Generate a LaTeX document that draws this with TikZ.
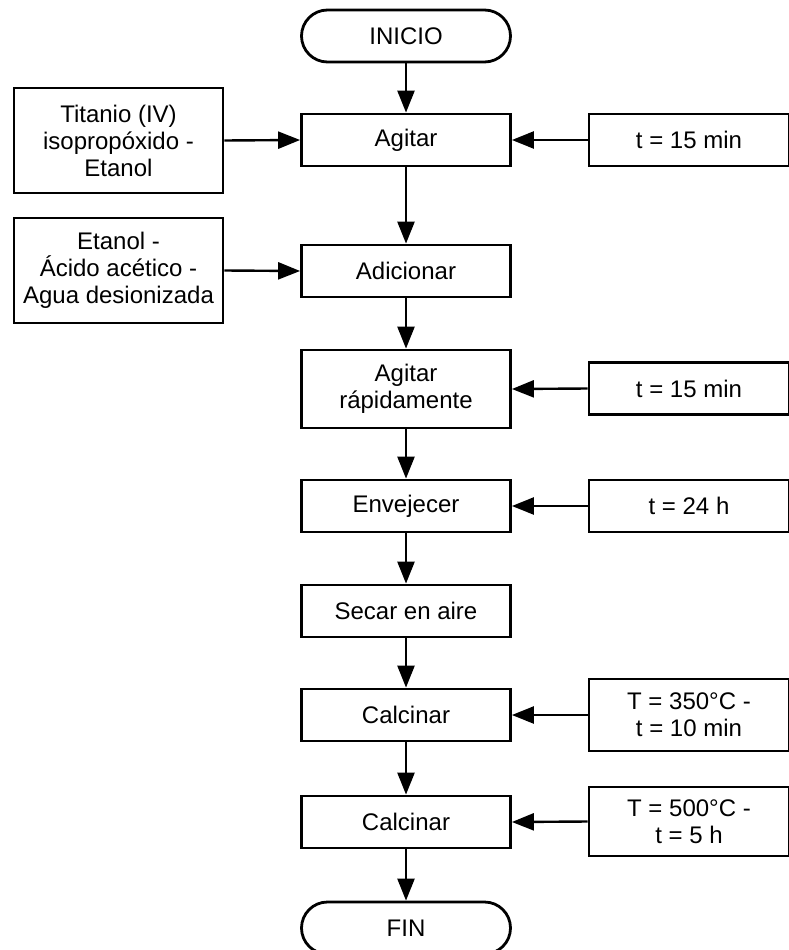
\documentclass[tikz,border=0pt]{standalone}
\usepackage{fontspec}
\setmainfont{Liberation Sans}
\usepackage{tikz}
\usetikzlibrary{arrows.meta, positioning}

\begin{document}
\begin{tikzpicture}[
  x=1pt, y=-1pt,
  font=\fontsize{24}{27}\selectfont,
  >={Triangle[length=22pt, width=17pt]},
  proc/.style={draw, line width=2.8pt, align=center, minimum width=209pt,
               minimum height=52pt, inner sep=0pt},
  term/.style={draw, line width=2.8pt, rounded corners=26pt, align=center,
               minimum width=209pt, minimum height=52pt, inner sep=0pt},
  feed/.style={draw, line width=2.8pt, align=center, minimum width=209pt,
               minimum height=105pt, inner sep=0pt},
  cond/.style={draw, line width=2.8pt, align=center, minimum width=200pt,
               minimum height=52pt, inner sep=0pt},
  flow/.style={->, line width=2.4pt},
]
\useasboundingbox (0,0) rectangle (789,950);
% main column
\node[term] (inicio) at (406,36)  {INICIO};
\node[proc] (agit)   at (406,140) {Agitar};
\node[proc] (adic)   at (406,271) {Adicionar};
\node[proc, minimum height=78pt] (rapid) at (406,389) {Agitar\\r\'apidamente};
\node[proc] (envej)  at (406,506) {Envejecer};
\node[proc] (secar)  at (406,611) {Secar en aire};
\node[proc] (calcA)  at (406,715) {Calcinar};
\node[proc] (calcB)  at (406,822) {Calcinar};
\node[term] (fin)    at (406,928) {FIN};
% reactants
\node[feed] (titan)  at (118.5,140.5) {Titanio (IV)\\isoprop\'oxido -\\Etanol};
\node[feed] (mezcla) at (118.5,270.5) {Etanol -\\\'Acido ac\'etico -\\Agua desionizada};
% conditions
\node[cond] (tA) at (689,140)  {t = 15 min};
\node[cond] (tB) at (689,388.5){t = 15 min};
\node[cond] (tC) at (689,506)  {t = 24 h};
\node[cond, minimum height=72pt] (tD) at (689,715)  {T = 350\textdegree C -\\t = 10 min};
\node[cond, minimum height=69pt] (tE) at (689,821.5){T = 500\textdegree C -\\t = 5 h};
% main flow
\draw[flow] (inicio) -- (agit);
\draw[flow] (agit)   -- (adic);
\draw[flow] (adic)   -- (rapid);
\draw[flow] (rapid)  -- (envej);
\draw[flow] (envej)  -- (secar);
\draw[flow] (secar)  -- (calcA);
\draw[flow] (calcA)  -- (calcB);
\draw[flow] (calcB)  -- (fin);
% inputs
\draw[flow] (titan.east)  -- (agit.west);
\draw[flow] (mezcla.east) -- (adic.west);
\draw[flow] (tA.west) -- (agit.east);
\draw[flow] (tB.west) -- (rapid.east);
\draw[flow] (tC.west) -- (envej.east);
\draw[flow] (tD.west) -- (calcA.east);
\draw[flow] (tE.west) -- (calcB.east);
\end{tikzpicture}
\end{document}
